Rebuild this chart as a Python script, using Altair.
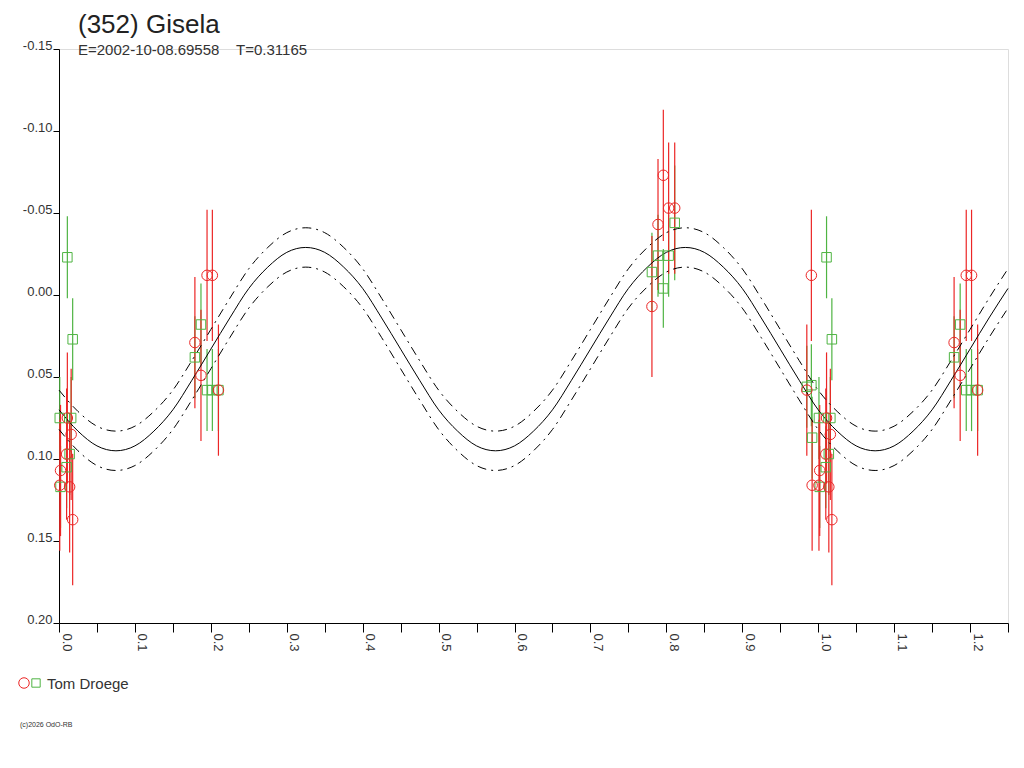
import altair as alt
import pandas as pd

red_phase = [0.001, 0.002, 0.010, 0.011, 0.014, 0.016, 0.018,
             0.179, 0.187, 0.195, 0.202, 0.210,
             0.781, 0.789, 0.796, 0.803, 0.811,
             0.985, 0.991, 0.992]
red_mag = [0.116, 0.107, 0.097, 0.075, 0.117, 0.085, 0.137,
           0.029, 0.049, -0.012, -0.012, 0.058,
           0.007, -0.043, -0.073, -0.053, -0.053,
           0.058, -0.012, 0.116]
red_err = [0.040, 0.040, 0.040, 0.040, 0.040, 0.040, 0.040,
           0.040, 0.040, 0.040, 0.040, 0.040,
           0.043, 0.040, 0.040, 0.040, 0.040,
           0.040, 0.040, 0.040]

green_phase = [0.001, 0.002, 0.010, 0.011, 0.014, 0.016, 0.018,
               0.179, 0.187, 0.195, 0.202, 0.210,
               0.781, 0.789, 0.796, 0.803, 0.811,
               0.985, 0.991, 0.992]
green_mag = [0.075, 0.117, 0.105, -0.023, 0.097, 0.075, 0.027,
             0.038, 0.018, 0.058, 0.058, 0.058,
             -0.014, -0.024, -0.004, -0.024, -0.044,
             0.056, 0.055, 0.087]
green_err = [0.025, 0.025, 0.025, 0.025, 0.025, 0.025, 0.025,
             0.025, 0.025, 0.025, 0.025, 0.025,
             0.024, 0.025, 0.024, 0.025, 0.035,
             0.025, 0.025, 0.025]

# ---- fitted light curve (phase step 0.025) ----
curve_phase = [i * 0.025 for i in range(51)]
curve_mag = [0.070, 0.083, 0.092, 0.095, 0.092, 0.083, 0.070, 0.052, 0.033, 0.014,
             -0.004, -0.017, -0.026, -0.029, -0.026, -0.017, -0.004, 0.014, 0.033, 0.052,
             0.070, 0.083, 0.092, 0.095, 0.092, 0.083, 0.070, 0.052, 0.033, 0.014,
             -0.004, -0.017, -0.026, -0.029, -0.026, -0.017, -0.004, 0.014, 0.033, 0.052,
             0.070, 0.083, 0.092, 0.095, 0.092, 0.083, 0.070, 0.052, 0.033, 0.014,
             -0.004]
upper_mag = [0.058, 0.071, 0.080, 0.083, 0.080, 0.071, 0.058, 0.040, 0.021, 0.002,
             -0.016, -0.029, -0.038, -0.041, -0.038, -0.029, -0.016, 0.002, 0.021, 0.040,
             0.058, 0.071, 0.080, 0.083, 0.080, 0.071, 0.058, 0.040, 0.021, 0.002,
             -0.016, -0.029, -0.038, -0.041, -0.038, -0.029, -0.016, 0.002, 0.021, 0.040,
             0.058, 0.071, 0.080, 0.083, 0.080, 0.071, 0.058, 0.040, 0.021, 0.002,
             -0.016]
lower_mag = [0.082, 0.095, 0.104, 0.107, 0.104, 0.095, 0.082, 0.064, 0.045, 0.026,
             0.008, -0.005, -0.014, -0.017, -0.014, -0.005, 0.008, 0.026, 0.045, 0.064,
             0.082, 0.095, 0.104, 0.107, 0.104, 0.095, 0.082, 0.064, 0.045, 0.026,
             0.008, -0.005, -0.014, -0.017, -0.014, -0.005, 0.008, 0.026, 0.045, 0.064,
             0.082, 0.095, 0.104, 0.107, 0.104, 0.095, 0.082, 0.064, 0.045, 0.026,
             0.008]

x_ticks = [round(i * 0.05, 2) for i in range(26)]
y_ticks = [-0.15, -0.10, -0.05, 0.00, 0.05, 0.10, 0.15, 0.20]

RED = "#ec2626"
GREEN = "#4fb443"
FONT = "Liberation Sans"


def obs_frame(ph, mg, er):
    rows = []
    for p, m, e in zip(ph, mg, er):
        rows.append({"phase": p, "mag": m, "lo": m - e, "hi": m + e})
        if p + 1 <= 1.25:
            rows.append({"phase": p + 1, "mag": m, "lo": m - e, "hi": m + e})
    return pd.DataFrame(rows)


red_df = obs_frame(red_phase, red_mag, red_err)
green_df = obs_frame(green_phase, green_mag, green_err)
curve_df = pd.DataFrame({"phase": curve_phase, "mag": curve_mag})
upper_df = pd.DataFrame({"phase": curve_phase, "mag": upper_mag})
lower_df = pd.DataFrame({"phase": curve_phase, "mag": lower_mag})

x_scale = alt.Scale(domain=[0, 1.25], nice=False, zero=False)
y_scale = alt.Scale(domain=[-0.15, 0.20], nice=False, zero=False, reverse=True)

x_axis = alt.Axis(
    values=x_ticks, title=None, grid=False,
    labelExpr="abs(round(datum.value*100) % 10) < 0.5 ? format(datum.value, '.1f') : ''",
    labelAngle=90, labelAlign="left", labelBaseline="bottom",
    tickSize=9, labelPadding=1, domainColor="#000", tickColor="#000",
    labelColor="#333", labelFont=FONT, labelFontSize=13, labelFlush=False,
    labelOverlap=False,
)
y_axis = alt.Axis(
    values=y_ticks, title=None, grid=False,
    labelExpr="datum.value < -0.0001 ? '-' + format(-datum.value, '.2f') : format(abs(datum.value), '.2f')",
    labelBaseline="alphabetic", tickSize=6, labelPadding=1,
    domainColor="#000", tickColor="#000", labelColor="#333",
    labelFont=FONT, labelFontSize=13, labelFlush=False, labelOverlap=False,
)

X = alt.X("phase:Q", scale=x_scale, axis=x_axis)
Y = alt.Y("mag:Q", scale=y_scale, axis=y_axis)
Ylo = alt.Y("lo:Q", scale=y_scale, axis=y_axis)

solid = alt.Chart(curve_df).mark_line(color="#000", strokeWidth=1, interpolate="monotone").encode(x=X, y=Y)
upper = alt.Chart(upper_df).mark_line(color="#000", strokeWidth=1, interpolate="monotone",
                                      strokeDash=[9, 5, 2, 5]).encode(x=X, y=Y)
lower = alt.Chart(lower_df).mark_line(color="#000", strokeWidth=1, interpolate="monotone",
                                      strokeDash=[9, 5, 2, 5]).encode(x=X, y=Y)

green_bar = alt.Chart(green_df).mark_rule(color=GREEN, strokeWidth=1.2).encode(x=X, y=Ylo, y2="hi:Q")
red_bar = alt.Chart(red_df).mark_rule(color=RED, strokeWidth=1.2).encode(x=X, y=Ylo, y2="hi:Q")
green_pt = alt.Chart(green_df).mark_point(shape="square", filled=False, color=GREEN, size=90,
                                          strokeWidth=1, opacity=1).encode(x=X, y=Y)
red_pt = alt.Chart(red_df).mark_point(shape="circle", filled=False, color=RED, size=110,
                                      strokeWidth=1, opacity=1).encode(x=X, y=Y)

one = pd.DataFrame({"t": ["x"]})
title_txt = alt.Chart(one).mark_text(text="(352) Gisela", font=FONT, fontSize=26, color="#222",
                                     align="left", baseline="alphabetic").encode(
    x=alt.value(19), y=alt.value(-16))
sub_txt = alt.Chart(one).mark_text(text="E=2002-10-08.69558\u00a0\u00a0\u00a0\u00a0T=0.31165", font=FONT,
                                   fontSize=15, color="#333", align="left", baseline="alphabetic").encode(
    x=alt.value(19), y=alt.value(6))
leg_c = alt.Chart(one).mark_point(shape="circle", filled=False, color=RED, size=110, strokeWidth=1,
                                  opacity=1).encode(x=alt.value(-35), y=alt.value(634))
leg_s = alt.Chart(one).mark_point(shape="square", filled=False, color=GREEN, size=70, strokeWidth=1,
                                  opacity=1).encode(x=alt.value(-23), y=alt.value(634))
leg_t = alt.Chart(one).mark_text(text="Tom Droege", font=FONT, fontSize=15, color="#333",
                                 align="left", baseline="middle").encode(x=alt.value(-12), y=alt.value(635))
copy_t = alt.Chart(one).mark_text(text="(c)2026 OdO-RB", font=FONT, fontSize=7, color="#333",
                                  align="left", baseline="alphabetic").encode(x=alt.value(-39), y=alt.value(678))

chart = alt.layer(
    green_bar, red_bar, solid, upper, lower, green_pt, red_pt,
    title_txt, sub_txt, leg_c, leg_s, leg_t, copy_t,
).properties(
    width=949, height=574,
    autosize=alt.AutoSizeParams(type="none"),
    padding={"left": 51, "top": 41, "right": 8, "bottom": 120},
).configure_view(stroke=None).configure(background="white")

chart.save("out.html", embed_options={"renderer": "svg", "actions": False})
